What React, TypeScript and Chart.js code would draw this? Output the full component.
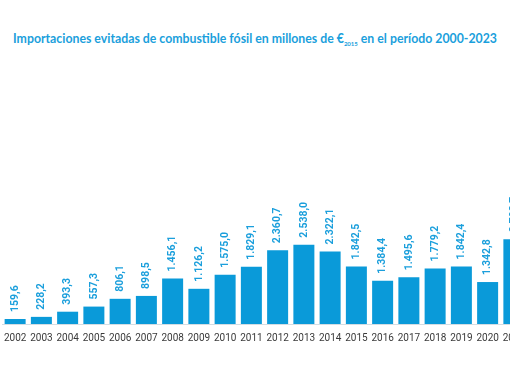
import React, { useEffect, useRef } from "react";
import { Chart, registerables } from "chart.js";

Chart.register(...registerables);

const years = ["2002","2003","2004","2005","2006","2007","2008","2009","2010","2011","2012","2013","2014","2015","2016","2017","2018","2019","2020","2021"];
const values = [159.6, 228.2, 393.3, 557.3, 806.1, 898.5, 1456.1, 1126.2, 1575.0, 1829.1, 2360.7, 2538.0, 2322.1, 1842.5, 1384.4, 1495.6, 1779.2, 1842.4, 1342.8, 2708.7];

const BLUE = "#0a9ad9";
const LABEL_BLUE = "#1b9fdc";

function fmt(v: number): string {
  const [i, d] = v.toFixed(1).split(".");
  const int = i.replace(/\B(?=(\d{3})+(?!\d))/g, ".");
  return int + "," + d;
}

const labelPlugin = {
  id: "barLabels",
  afterDatasetsDraw(chart: any) {
    const ctx = chart.ctx;
    const meta = chart.getDatasetMeta(0);
    ctx.save();
    ctx.fillStyle = LABEL_BLUE;
    ctx.font = "bold 10.5px Roboto";
    ctx.textAlign = "left";
    ctx.textBaseline = "middle";
    meta.data.forEach((el: any, i: number) => {
      ctx.save();
      ctx.translate(el.x, el.y - 7);
      ctx.rotate(-Math.PI / 2);
      ctx.fillText(fmt(values[i]), 0, 0);
      ctx.restore();
    });
    ctx.restore();
  },
};

export default function App() {
  const ref = useRef<HTMLCanvasElement>(null);
  useEffect(() => {
    if (!ref.current) return;
    const chart = new Chart(ref.current, {
      type: "bar",
      data: {
        labels: years,
        datasets: [
          {
            data: values,
            backgroundColor: BLUE,
            barPercentage: 0.8,
            categoryPercentage: 1,
          },
        ],
      },
      options: {
        responsive: false,
        animation: false,
        layout: { padding: { top: 74, bottom: 30, left: 0, right: 0 } },
        plugins: {
          legend: { display: false },
          title: { display: false },
          tooltip: { enabled: false },
        },
        scales: {
          x: {
            offset: true,
            grid: { display: false, drawTicks: false },
            border: { display: true, color: "#d3dde3", width: 1 },
            ticks: {
              color: "#3a3a3a",
              font: { family: "Roboto", size: 10 },
              padding: 8,
              maxRotation: 0,
              autoSkip: false,
            },
            afterFit: (scale: any) => {
              scale.paddingLeft = 0;
              scale.paddingRight = 0;
            },
          },
          y: {
            display: false,
            min: 0,
            max: 8000,
          },
        },
      },
      plugins: [labelPlugin],
    });
    return () => chart.destroy();
  }, []);

  return (
    <div style={{ position: "fixed", left: 0, top: 0, width: 510, height: 382, overflow: "hidden", background: "#fff" }}>
      <div
        style={{
          position: "absolute",
          left: 0,
          top: 31,
          width: 510,
          textAlign: "center",
          fontFamily: "Lato, sans-serif",
          fontWeight: 700,
          fontSize: 12.3,
          lineHeight: "16px",
          color: LABEL_BLUE,
          whiteSpace: "nowrap",
        }}
      >
        Importaciones evitadas de combustible fósil en millones de €
        <sub style={{ fontSize: 6, verticalAlign: "-3px" }}>2015</sub> en el período 2000-2023
      </div>
      <canvas
        ref={ref}
        width={525}
        height={382}
        style={{ position: "absolute", left: 2, top: 0, width: 525, height: 382 }}
      />
    </div>
  );
}
